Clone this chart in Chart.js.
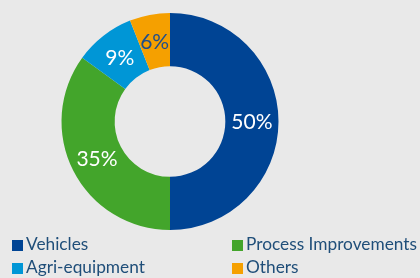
<!DOCTYPE html>
<html>
<head>
<meta charset="utf-8">
<script src="https://cdn.jsdelivr.net/npm/chart.js@4"></script>
<style>
  html, body { margin: 0; padding: 0; background: #e9e9e9; }
  #wrap { position: relative; width: 420px; height: 278px; overflow: hidden; }
  #chart-box { position: absolute; left: 0; top: 0; width: 420px; height: 236px; }
  #legend { position: absolute; left: 0; top: 234px; width: 420px; font-family: Lato, sans-serif; font-size: 17.3px; color: #1f4e79; }
  .item { position: absolute; white-space: nowrap; line-height: 20px; }
  .box { display: inline-block; width: 11px; height: 11px; margin-right: 3px; vertical-align: -1px; }
</style>
</head>
<body>
<div id="wrap">
  <div id="chart-box"><canvas id="pie"></canvas></div>
  <div id="legend"></div>
</div>
<script>
// 数据
const categories = ['Vehicles', 'Process Improvements', 'Agri-equipment', 'Others'];
const shares = [50, 35, 9, 6];
const colors = ['#004494', '#43a52b', '#0096d6', '#f5a000'];
const labelColors = ['#ffffff', '#ffffff', '#ffffff', '#1f4e8c'];

// 百分比标签插件
const sliceLabels = {
  id: 'sliceLabels',
  afterDatasetsDraw(chart) {
    const ctx = chart.ctx;
    const meta = chart.getDatasetMeta(0);
    ctx.save();
    ctx.font = '21px Lato, sans-serif';
    ctx.textAlign = 'center';
    ctx.textBaseline = 'middle';
    meta.data.forEach((arc, i) => {
      const p = arc.tooltipPosition();
      ctx.fillStyle = labelColors[i];
      ctx.fillText(shares[i] + '%', p.x, p.y + 1);
    });
    ctx.restore();
  }
};

new Chart(document.getElementById('pie'), {
  type: 'doughnut',
  data: {
    labels: categories,
    datasets: [{
      data: shares,
      backgroundColor: colors,
      borderWidth: 0
    }]
  },
  options: {
    responsive: true,
    maintainAspectRatio: false,
    animation: false,
    cutout: '51%',
    layout: { padding: { top: 13, bottom: 6, left: 0, right: 80 } },
    plugins: {
      legend: { display: false },
      tooltip: { enabled: false }
    }
  },
  plugins: [sliceLabels]
});

// 图例
const legendPos = [[12, 0], [232, 0], [12, 23], [232, 23]];
const legend = document.getElementById('legend');
categories.forEach((name, i) => {
  const el = document.createElement('div');
  el.className = 'item';
  el.style.left = legendPos[i][0] + 'px';
  el.style.top = legendPos[i][1] + 'px';
  el.innerHTML = '<span class="box" style="background:' + colors[i] + '"></span>' + name;
  legend.appendChild(el);
});
</script>
</body>
</html>
